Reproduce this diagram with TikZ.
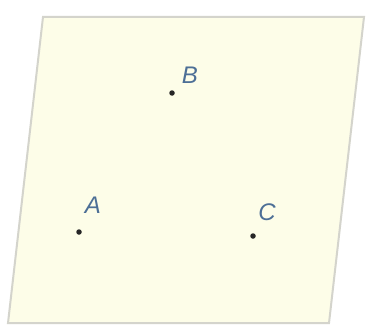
\documentclass[tikz,border=0pt]{standalone}
\usepackage{fontspec}
\setmainfont{Liberation Sans}
\definecolor{planefill}{HTML}{FDFDE8}
\definecolor{planeedge}{HTML}{D4D4CC}
\definecolor{labelblue}{HTML}{4D6F96}
\begin{document}
\begin{tikzpicture}[x=1pt,y=-1pt,
  pt/.style={circle,fill=black!85,inner sep=0pt,minimum size=5.5pt},
  lbl/.style={text=labelblue,font=\fontsize{24}{24}\selectfont\itshape,inner sep=0pt}]
\useasboundingbox (0,0) rectangle (366,329);
\fill[white] (0,0) rectangle (366,329);
\draw[planeedge,line width=2pt,fill=planefill] (43,17) -- (364,17) -- (329,323) -- (8,323) -- cycle;
\node[pt] (A) at (79,232) {};
\node[pt] (B) at (172,93) {};
\node[pt] (C) at (253,236) {};
\node[lbl] (lA) at (93,205) {A};
\node[lbl] (lB) at (190,75) {B};
\node[lbl] (lC) at (267,212) {C};
\end{tikzpicture}
\end{document}
